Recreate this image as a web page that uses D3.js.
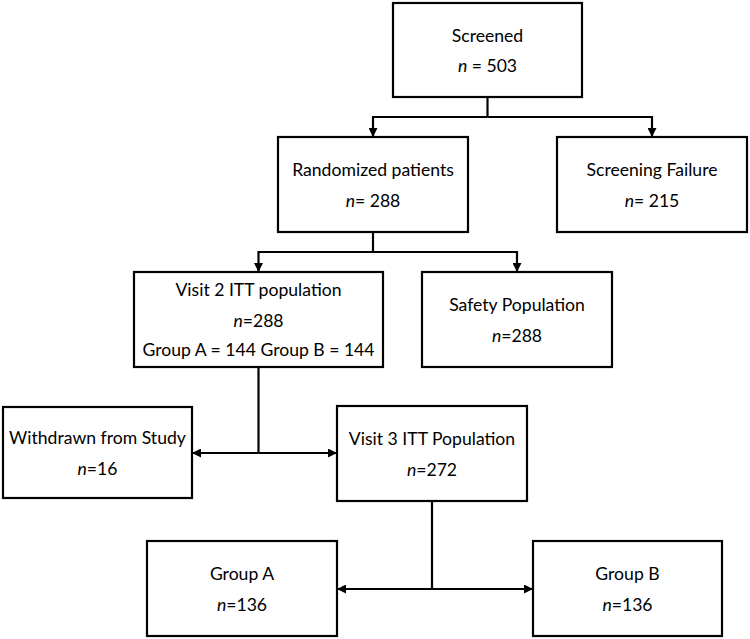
<!DOCTYPE html>
<html>
<head>
<meta charset="utf-8">
<script src="https://cdn.jsdelivr.net/npm/d3@7"></script>
<style>
  body { margin: 0; background: #fff; }
  svg text { font-family: Lato, "Open Sans", sans-serif; font-size: 17.6px; fill: #000; }
</style>
</head>
<body>
<script>
// Flow of patients through the study
var stepTitles = ["Screened", "Randomized patients", "Screening Failure",
  "Visit 2 ITT population", "Safety Population", "Withdrawn from Study",
  "Visit 3 ITT Population", "Group A", "Group B"];
var stepCounts = [503, 288, 215, 288, 288, 16, 272, 136, 136];
var countSeparators = [" = ", "= ", "= ", "=", "=", "=", "=", "=", "="];
// extra line shown only in the Visit 2 box
var visit2Split = "Group A = 144 Group B = 144";
// parent -> children
var links = [[0, [1, 2]], [1, [3, 4]], [3, [5, 6]], [6, [7, 8]]];

// Layout of the diagram (pixels)
var width = 750, height = 639;
var boxLayout = [
  [393, 3, 582, 97],
  [278, 137, 468, 232],
  [557, 137, 747, 232],
  [134, 272, 383, 367],
  [422, 272, 612, 367],
  [3, 407, 192, 498],
  [337, 406, 527, 501],
  [147, 541, 337, 636],
  [533, 541, 722, 636]
];
// y of the branching line below each parent and how arrows enter children
var junctions = [
  {y: 117, mode: "down"},
  {y: 252, mode: "down"},
  {y: 453, mode: "side"},
  {y: 589, mode: "side"}
];
var lineGap = 30;

var svg = d3.select("body")
  .append("svg")
    .attr("width", width)
    .attr("height", height);

svg.append("defs").append("marker")
    .attr("id", "arrow")
    .attr("viewBox", "0 0 10 10")
    .attr("refX", 10)
    .attr("refY", 5)
    .attr("markerUnits", "userSpaceOnUse")
    .attr("markerWidth", 9)
    .attr("markerHeight", 9)
    .attr("orient", "auto")
  .append("path")
    .attr("d", "M0,0 L10,5 L0,10 Z")
    .attr("fill", "#000");

var boxes = stepTitles.map(function(t, i) {
  var b = boxLayout[i];
  return {
    title: t, count: stepCounts[i], sep: countSeparators[i],
    x0: b[0], y0: b[1], x1: b[2], y1: b[3],
    cx: (b[0] + b[2]) / 2, cy: (b[1] + b[3]) / 2
  };
});

// connectors
var conn = svg.append("g")
  .attr("fill", "none")
  .attr("stroke", "#000")
  .attr("stroke-width", 2.2);

links.forEach(function(l, k) {
  var p = boxes[l[0]];
  var j = junctions[k];
  var kids = l[1].map(function(i) { return boxes[i]; });
  var path = d3.path();
  path.moveTo(p.cx, p.y1);
  path.lineTo(p.cx, j.y);
  conn.append("path").attr("d", path.toString());

  kids.forEach(function(c) {
    var seg = d3.path();
    seg.moveTo(p.cx, j.y);
    if (j.mode === "down") {
      seg.lineTo(c.cx, j.y);
      seg.lineTo(c.cx, c.y0);
    } else {
      seg.lineTo(c.cx < p.cx ? c.x1 : c.x0, j.y);
    }
    conn.append("path")
      .attr("d", seg.toString())
      .attr("marker-end", "url(#arrow)");
  });
});

// boxes
var node = svg.selectAll("g.node")
  .data(boxes)
  .enter().append("g")
    .attr("class", "node");

node.append("rect")
  .attr("x", function(d) { return d.x0; })
  .attr("y", function(d) { return d.y0; })
  .attr("width", function(d) { return d.x1 - d.x0; })
  .attr("height", function(d) { return d.y1 - d.y0; })
  .attr("fill", "#fff")
  .attr("stroke", "#000")
  .attr("stroke-width", 2.2);

node.each(function(d, i) {
  var lines = i === 3 ? 3 : 2;
  var top = d.cy - (lines - 1) * lineGap / 2;
  var g = d3.select(this);

  g.append("text")
    .attr("x", d.cx)
    .attr("y", top)
    .attr("text-anchor", "middle")
    .attr("dominant-baseline", "central")
    .text(d.title);

  var t = g.append("text")
    .attr("x", d.cx)
    .attr("y", top + lineGap)
    .attr("text-anchor", "middle")
    .attr("dominant-baseline", "central");
  t.append("tspan").attr("font-style", "italic").text("n");
  t.append("tspan").text(d.sep + d.count);

  if (i === 3) {
    g.append("text")
      .attr("x", d.cx)
      .attr("y", top + 2 * lineGap)
      .attr("text-anchor", "middle")
      .attr("dominant-baseline", "central")
      .attr("font-size", "17px")
      .text(visit2Split);
  }
});
</script>
</body>
</html>
